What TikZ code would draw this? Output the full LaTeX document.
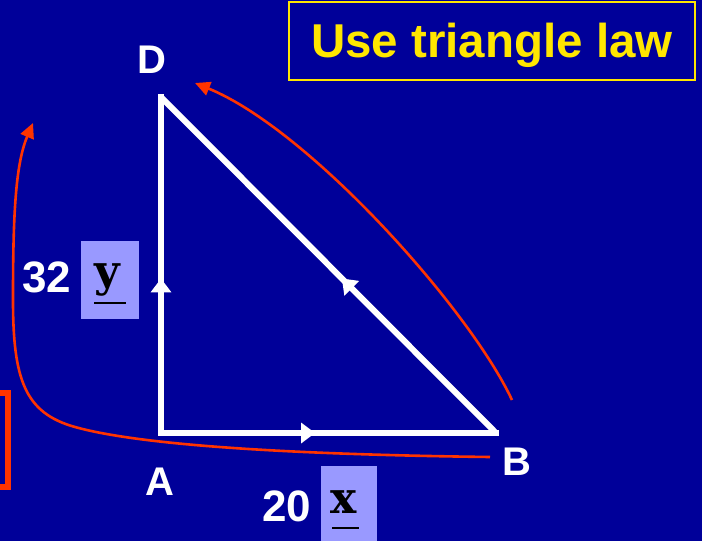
\documentclass[tikz,border=0pt]{standalone}
\usepackage{fontspec}
\setmainfont{Liberation Sans}
\newfontfamily\serifbold{DejaVu Serif}
\usetikzlibrary{arrows.meta,decorations.markings}
\definecolor{bgblue}{RGB}{0,0,153}
\definecolor{titleyellow}{RGB}{255,230,0}
\definecolor{redline}{RGB}{255,51,0}
\definecolor{lightbox}{RGB}{153,153,255}
\tikzset{
  vec/.style={draw=white, line width=6pt, postaction={decorate},
    decoration={markings, mark=at position 0.46 with {\arrow[white]{Triangle[length=14pt,width=20pt]}}}},
  lbl/.style={text=white, inner sep=0pt, font=\fontsize{40}{48}\selectfont\bfseries},
  num/.style={text=white, inner sep=0pt, font=\fontsize{44}{52}\selectfont\bfseries},
  sym/.style={text=black, inner sep=0pt, anchor=base, font=\fontsize{44}{52}\selectfont\serifbold\bfseries},
  symbox/.style={fill=lightbox, draw=none},
  redarc/.style={draw=redline, line width=2.6pt, -{Triangle[length=15pt,width=14pt]}},
  uline/.style={draw=black, line width=2.6pt}
}
\begin{document}
\begin{tikzpicture}[x=1pt,y=-1pt]
\fill[bgblue] (0,0) rectangle (702,541);
\useasboundingbox (0,0) rectangle (702,541);
\clip (0,0) rectangle (702,541);

% title box
\node[draw=titleyellow, line width=2pt, minimum width=406pt, minimum height=78pt, inner sep=0pt] (tbox) at (492,41) {};
\node[anchor=base, text=titleyellow, inner sep=0pt, font=\fontsize{47.5}{57}\selectfont\bfseries] (title) at (492,57) {Use triangle law};

% triangle
\coordinate (A) at (161,433);
\coordinate (B) at (496,433);
\coordinate (D) at (161,97);
\draw[vec, line cap=rect] (A) -- (B);
\draw[vec, line cap=rect] (A) -- (D);
\draw[vec] (B) -- (D);

% vertex labels
\node[lbl] (lA) at (160,482) {A};
\node[lbl] (lB) at (517,462) {B};
\node[lbl] (lD) at (152,60) {D};

% magnitude labels
\node[num] (n32) at (47,277) {32};
\node[num] (n20) at (287,506) {20};
\fill[symbox] (81,241) rectangle (139,319);
\fill[symbox] (321,466) rectangle (377,545);
\node[sym] (vy) at (107,286) {y};
\node[sym] (vx) at (344,513) {x};
\draw[uline] (94,303) -- (126,303);
\draw[uline] (332,528) -- (359,528);

% red annotations
\coordinate (r1s) at (490,457);
\coordinate (r1m) at (75,427);
\coordinate (r1n) at (13,300);
\coordinate (r1e) at (33,123);
\draw[redarc] (r1s) .. controls (330,455) and (150,448) .. (r1m)
   .. controls (25,413) and (13,380) .. (r1n)
   .. controls (13,220) and (15,165) .. (r1e);
\coordinate (r2s) at (512,400);
\coordinate (r2e) at (195,83);
\draw[redarc] (r2s) .. controls (470,310) and (310,130) .. (r2e);

% red bracket at left edge
\draw[draw=redline, line width=6pt] (-10,393) -- (8,393) -- (8,487) -- (-10,487);
\end{tikzpicture}
\end{document}
